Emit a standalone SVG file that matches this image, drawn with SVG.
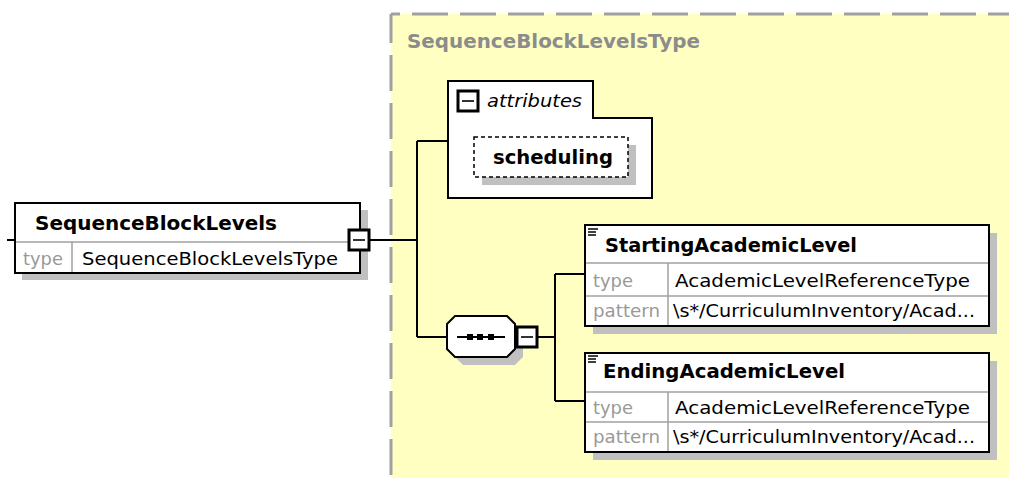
<svg xmlns="http://www.w3.org/2000/svg" width="1009" height="478" viewBox="0 0 1009 478">
<style>
.bg{fill:#ffffc2}
.dash{stroke:#a0a0a0;stroke-width:3;stroke-dasharray:36 12;fill:none}
.box{fill:#fff;stroke:#000;stroke-width:2}
.shadow{fill:#c0c0c0}
.sep{stroke:#a0a0a0;stroke-width:1.5;fill:none}
.con{stroke:#000;stroke-width:2;fill:none}
.hd{font-family:"DejaVu Sans",Verdana,sans-serif;font-weight:bold;font-size:19px;fill:#000}
.lb{font-family:"DejaVu Sans",Verdana,sans-serif;font-size:17px;fill:#999}
.vl{font-family:"DejaVu Sans",Verdana,sans-serif;font-size:17px;fill:#000}
.ttl{font-family:"DejaVu Sans",Verdana,sans-serif;font-weight:bold;font-size:19px;fill:#8c8c8c}
.it{font-family:"DejaVu Sans",Verdana,sans-serif;font-style:italic;font-size:18px;fill:#000}
.mb{fill:#fff;stroke:#000;stroke-width:3}
.ml{stroke:#333;stroke-width:2}
.ic{stroke:#000;stroke-width:1.5}
</style>
<defs>
<g id="minus"><rect class="mb" x="-10" y="-10" width="20" height="20"/><line class="ml" x1="-6" y1="0" x2="6" y2="0"/></g>
<g id="ico"><line class="ic" x1="0" y1="0" x2="10" y2="0"/><line class="ic" x1="0" y1="3" x2="8" y2="3"/><line class="ic" x1="0" y1="6" x2="8" y2="6"/></g>
</defs>
<g id="complexType">
<rect class="bg" x="391" y="14" width="620" height="466"/>
<line class="dash" x1="391" y1="14" x2="1009" y2="14" stroke-dashoffset="27"/>
<line class="dash" x1="391" y1="14" x2="391" y2="478" stroke-dashoffset="7"/>
<text class="ttl" x="407" y="48" textLength="293" lengthAdjust="spacingAndGlyphs">SequenceBlockLevelsType</text>
</g>
<g id="connectors">
<path class="con" d="M7,240 H15"/>
<path class="con" d="M370,240 H417"/>
<path class="con" d="M417,141 V337"/>
<path class="con" d="M417,141 H448"/>
<path class="con" d="M417,337 H447"/>
<path class="con" d="M538,337 H555"/>
<path class="con" d="M555,274 V401"/>
<path class="con" d="M555,274 H585"/>
<path class="con" d="M555,401 H585"/>
</g>
<g id="SequenceBlockLevels">
<rect class="shadow" x="22" y="210" width="346" height="70"/>
<rect class="box" x="15" y="203" width="345" height="70"/>
<line class="sep" x1="16" y1="242" x2="359" y2="242"/>
<line class="sep" x1="72" y1="242" x2="72" y2="272"/>
<text class="hd" x="35" y="230" textLength="242" lengthAdjust="spacingAndGlyphs">SequenceBlockLevels</text>
<text class="lb" x="23" y="265" textLength="40" lengthAdjust="spacingAndGlyphs">type</text>
<text class="vl" x="82" y="265" textLength="256" lengthAdjust="spacingAndGlyphs">SequenceBlockLevelsType</text>
<use href="#minus" x="359" y="240"/>
</g>
<g id="attributes">
<path class="box" d="M448,81 H593 V118 H652 V198 H448 Z"/>
<use href="#minus" x="468" y="101"/>
<text class="it" x="487" y="107" textLength="95" lengthAdjust="spacingAndGlyphs">attributes</text>
</g>
<g id="scheduling">
<rect class="shadow" x="482" y="145" width="154" height="40"/>
<rect x="474" y="137" width="154" height="40" fill="#fff" stroke="#000" stroke-width="1.5" stroke-dasharray="4 3"/>
<text class="hd" x="493" y="164" textLength="120" lengthAdjust="spacingAndGlyphs">scheduling</text>
</g>
<g id="sequence">
<path class="shadow" d="M463,324 H515 L523,332 V357 L515,365 H463 L455,357 V332 Z"/>
<path class="box" d="M455,316 H507 L515,324 V349 L507,357 H455 L447,349 V324 Z"/>
<line class="con" x1="457" y1="337" x2="505" y2="337"/>
<rect x="467" y="334" width="6" height="6" fill="#000"/>
<rect x="477" y="334" width="6" height="6" fill="#000"/>
<rect x="488" y="334" width="6" height="6" fill="#000"/>
<use href="#minus" x="527" y="337"/>
</g>
<g id="StartingAcademicLevel">
<rect class="shadow" x="593" y="233" width="404" height="101"/>
<rect class="box" x="585" y="225" width="404" height="101"/>
<line class="sep" x1="586" y1="263" x2="988" y2="263"/>
<line class="sep" x1="586" y1="296" x2="988" y2="296"/>
<line class="sep" x1="668" y1="263" x2="668" y2="325"/>
<use href="#ico" x="588" y="229"/>
<text class="hd" x="605" y="252" textLength="252" lengthAdjust="spacingAndGlyphs">StartingAcademicLevel</text>
<text class="lb" x="593" y="287" textLength="40" lengthAdjust="spacingAndGlyphs">type</text>
<text class="lb" x="593" y="317" textLength="67" lengthAdjust="spacingAndGlyphs">pattern</text>
<text class="vl" x="675" y="287" textLength="295" lengthAdjust="spacingAndGlyphs">AcademicLevelReferenceType</text>
<text class="vl" x="673" y="317" textLength="302" lengthAdjust="spacingAndGlyphs">\s*/CurriculumInventory/Acad...</text>
</g>
<g id="EndingAcademicLevel">
<rect class="shadow" x="593" y="361" width="404" height="99"/>
<rect class="box" x="585" y="353" width="404" height="99"/>
<line class="sep" x1="586" y1="392" x2="988" y2="392"/>
<line class="sep" x1="586" y1="422" x2="988" y2="422"/>
<line class="sep" x1="668" y1="392" x2="668" y2="451"/>
<use href="#ico" x="588" y="356"/>
<text class="hd" x="603" y="378" textLength="242" lengthAdjust="spacingAndGlyphs">EndingAcademicLevel</text>
<text class="lb" x="593" y="414" textLength="40" lengthAdjust="spacingAndGlyphs">type</text>
<text class="lb" x="593" y="443" textLength="67" lengthAdjust="spacingAndGlyphs">pattern</text>
<text class="vl" x="675" y="414" textLength="295" lengthAdjust="spacingAndGlyphs">AcademicLevelReferenceType</text>
<text class="vl" x="673" y="443" textLength="302" lengthAdjust="spacingAndGlyphs">\s*/CurriculumInventory/Acad...</text>
</g>
</svg>
